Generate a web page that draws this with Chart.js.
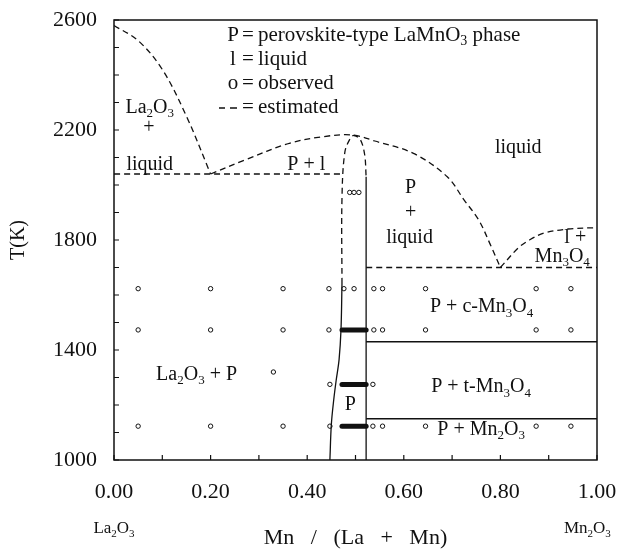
<!DOCTYPE html>
<html>
<head>
<meta charset="utf-8">
<script src="https://cdn.jsdelivr.net/npm/chart.js@4"></script>
<style>
  html, body { margin: 0; padding: 0; background: #fff; }
  canvas { display: block; }
</style>
</head>
<body>
<canvas id="phaseChart" width="624" height="551"></canvas>
<script>
'use strict';
const FONT = '"Liberation Serif", "Times New Roman", serif';
const INK = '#111';

// tick labels
const xTicks = [0, 0.2, 0.4, 0.6, 0.8, 1.0];
const yTicks = [1000, 1400, 1800, 2200, 2600];

// liquidus on the La2O3 side
const leftLiqX = [0, 0.05, 0.10, 0.15, 0.20];
const leftLiqT = [2580, 2525, 2420, 2250, 2040];
// P + l dome down to the Mn-side eutectic
const domeX = [0.20, 0.27, 0.36, 0.43, 0.493, 0.54, 0.62, 0.69, 0.725, 0.755, 0.78, 0.80];
const domeT = [2040, 2090, 2150, 2175, 2182, 2160, 2115, 2030, 1945, 1873, 1780, 1700];
// l + Mn3O4 liquidus
const rightLiqX = [0.80, 0.837, 0.86, 0.89, 0.94, 1.0];
const rightLiqT = [1700, 1771, 1800, 1825, 1840, 1845];
// top of the P field (estimated)
const pTopX = [0.472, 0.472, 0.478, 0.49, 0.497, 0.51, 0.519, 0.522];
const pTopT = [1640, 1950, 2120, 2172, 2180, 2165, 2110, 2030];
// P field edges (observed)
const pLeftX = [0.472, 0.470, 0.466, 0.460, 0.455, 0.450, 0.447];
const pLeftT = [1640, 1475, 1365, 1290, 1220, 1130, 1000];
const pRightX = [0.522, 0.522];
const pRightT = [2030, 1000];

// isotherms
const dashedIsoT = [2040, 1700];
const dashedIsoFrom = [0, 0.522];
const dashedIsoTo = [0.472, 1.0];
const solidIsoT = [1430, 1150];
const solidIsoFrom = [0.522, 0.522];
const solidIsoTo = [1.0, 1.0];

// observed points, one row per temperature
const obsRowT = [1973, 1623, 1473, 1320, 1275, 1123];
const obsRowX = [
  [0.488, 0.497, 0.507],
  [0.05, 0.20, 0.35, 0.445, 0.476, 0.497, 0.538, 0.556, 0.645, 0.874, 0.946],
  [0.05, 0.20, 0.35, 0.445, 0.538, 0.556, 0.645, 0.874, 0.946],
  [0.33],
  [0.447, 0.536],
  [0.05, 0.20, 0.35, 0.447, 0.536, 0.556, 0.645, 0.874, 0.946]
];
// dense runs of observations inside the P field
const runT = [1473, 1275, 1123];
const runFrom = [0.472, 0.472, 0.472];
const runTo = [0.522, 0.522, 0.522];

// field labels (_x = subscript x)
const fieldText = ['La_2O_3', '+', 'liquid', 'P + l', 'liquid', 'P', '+', 'liquid', 'l +', 'Mn_3O_4',
  'P + c-Mn_3O_4', 'P + t-Mn_3O_4', 'P + Mn_2O_3', 'La_2O_3 + P', 'P'];
const fieldX = [0.074, 0.072, 0.074, 0.398, 0.837, 0.614, 0.614, 0.612, 0.955, 0.928,
  0.761, 0.760, 0.760, 0.171, 0.489];
const fieldT = [2280, 2207, 2073, 2073, 2135, 1989, 1898, 1807, 1807, 1738,
  1556, 1265, 1109, 1309, 1200];

// key in the upper part
const keySym = ['P', 'l', 'o', ''];
const keyText = ['perovskite-type LaMnO_3 phase', 'liquid', 'observed', 'estimated'];

// end members under the axis
const endText = ['La_2O_3', 'Mn_2O_3'];
const endX = [0, 0.98];

const zip = (xs, ts) => xs.map((x, i) => ({x: x, y: ts[i]}));

function curve(xs, ts, dashed, width) {
  return {
    data: zip(xs, ts),
    showLine: true,
    borderColor: INK,
    borderWidth: width || 1.3,
    borderDash: dashed ? [6, 4] : [],
    pointRadius: 0,
    tension: 0.35,
    fill: false
  };
}

const datasets = [
  curve(leftLiqX, leftLiqT, true),
  curve(domeX, domeT, true),
  curve(rightLiqX, rightLiqT, true),
  curve(pTopX, pTopT, true),
  curve(pLeftX, pLeftT, false),
  curve(pRightX, pRightT, false)
];
dashedIsoT.forEach((t, i) => datasets.push(curve([dashedIsoFrom[i], dashedIsoTo[i]], [t, t], true)));
solidIsoT.forEach((t, i) => datasets.push(curve([solidIsoFrom[i], solidIsoTo[i]], [t, t], false)));
runT.forEach((t, i) => {
  const d = curve([runFrom[i], runTo[i]], [t, t], false, 5);
  d.borderCapStyle = 'round';
  datasets.push(d);
});
obsRowT.forEach((t, i) => {
  datasets.push({
    data: obsRowX[i].map(x => ({x: x, y: t})),
    showLine: false,
    pointRadius: 2.2,
    pointBorderWidth: 1,
    pointBackgroundColor: '#fff',
    pointBorderColor: INK
  });
});

function richRuns(str) {
  const runs = [];
  for (let i = 0; i < str.length; i++) {
    if (str[i] === '_') {
      runs.push({t: str[++i], sub: true});
    } else {
      const last = runs[runs.length - 1];
      if (last && !last.sub) last.t += str[i];
      else runs.push({t: str[i], sub: false});
    }
  }
  return runs;
}

function drawRich(ctx, str, x, y, size, align) {
  const runs = richRuns(str);
  const big = size + 'px ' + FONT;
  const small = Math.round(size * 0.66) + 'px ' + FONT;
  let w = 0;
  runs.forEach(r => {
    ctx.font = r.sub ? small : big;
    r.w = ctx.measureText(r.t).width;
    w += r.w;
  });
  let cx = align === 'left' ? x : (align === 'right' ? x - w : x - w / 2);
  ctx.textAlign = 'left';
  ctx.textBaseline = 'middle';
  runs.forEach(r => {
    ctx.font = r.sub ? small : big;
    ctx.fillText(r.t, cx, r.sub ? y + size * 0.3 : y);
    cx += r.w;
  });
}

const decor = {
  id: 'decor',
  afterDraw(chart) {
    const {ctx, chartArea: a, scales: {x, y}} = chart;
    ctx.save();
    ctx.strokeStyle = INK;
    ctx.fillStyle = INK;

    // frame
    ctx.lineWidth = 1.5;
    ctx.strokeRect(a.left, a.top, a.right - a.left, a.bottom - a.top);

    // inward ticks
    ctx.lineWidth = 1.2;
    ctx.beginPath();
    for (let t = 1000; t <= 2600; t += 100) {
      const py = y.getPixelForValue(t);
      ctx.moveTo(a.left, py);
      ctx.lineTo(a.left + 5, py);
    }
    for (let v = 0; v <= 10; v++) {
      const px = x.getPixelForValue(v / 10);
      ctx.moveTo(px, a.bottom);
      ctx.lineTo(px, a.bottom - 5);
    }
    ctx.stroke();

    // field labels
    fieldText.forEach((s, i) => {
      drawRich(ctx, s, x.getPixelForValue(fieldX[i]), y.getPixelForValue(fieldT[i]), 20, 'center');
    });

    // key
    keySym.forEach((s, i) => {
      const py = a.top + 15 + i * 24;
      if (s) {
        drawRich(ctx, s, a.left + 119, py, 21, 'center');
      } else {
        ctx.lineWidth = 1.3;
        ctx.beginPath();
        ctx.moveTo(a.left + 105, py + 1); ctx.lineTo(a.left + 111, py + 1);
        ctx.moveTo(a.left + 116, py + 1); ctx.lineTo(a.left + 123, py + 1);
        ctx.stroke();
      }
      drawRich(ctx, '=', a.left + 134, py, 21, 'center');
      drawRich(ctx, keyText[i], a.left + 144, py, 21, 'left');
    });

    // end members
    endText.forEach((s, i) => {
      drawRich(ctx, s, x.getPixelForValue(endX[i]), 529, 17, 'center');
    });
    ctx.restore();
  }
};

new Chart(document.getElementById('phaseChart'), {
  type: 'scatter',
  data: {datasets: datasets},
  options: {
    responsive: false,
    animation: false,
    events: [],
    layout: {padding: {top: 20, right: 27, bottom: 0, left: 0}},
    plugins: {legend: {display: false}, tooltip: {enabled: false}},
    scales: {
      x: {
        type: 'linear',
        min: 0,
        max: 1,
        afterFit: s => {
          s.height = 91;
          s.paddingLeft = 0;
          s.paddingRight = 0;
        },
        afterBuildTicks: s => { s.ticks = xTicks.map(v => ({value: v})); },
        grid: {display: false, drawTicks: false},
        border: {display: false},
        ticks: {
          color: INK,
          padding: 19,
          font: {family: FONT, size: 22},
          callback: v => Number(v).toFixed(2)
        },
        title: {
          display: true,
          text: 'Mn   /   (La   +   Mn)',
          color: INK,
          padding: {top: 0, bottom: 0},
          font: {family: FONT, size: 22}
        }
      },
      y: {
        type: 'linear',
        min: 1000,
        max: 2600,
        afterFit: s => {
          s.width = 114;
          s.paddingTop = 0;
          s.paddingBottom = 0;
        },
        afterBuildTicks: s => { s.ticks = yTicks.map(v => ({value: v})); },
        grid: {display: false, drawTicks: false},
        border: {display: false},
        ticks: {
          color: INK,
          padding: 17,
          font: {family: FONT, size: 22},
          callback: v => String(v)
        },
        title: {
          display: true,
          text: 'T(K)',
          color: INK,
          padding: {top: 7, bottom: 0},
          font: {family: FONT, size: 20}
        }
      }
    }
  },
  plugins: [decor]
});
</script>
</body>
</html>
